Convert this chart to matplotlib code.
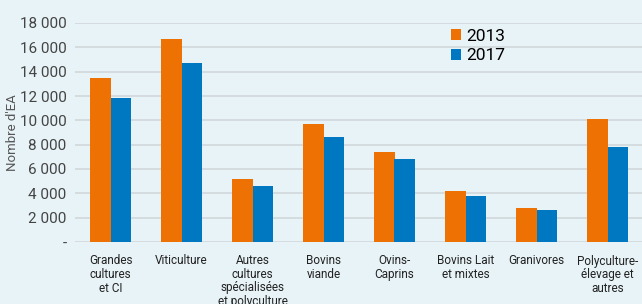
import numpy as np
import matplotlib
matplotlib.use("Agg")
from matplotlib import pyplot as plt

categories = ["Grandes\ncultures\net CI", "Viticulture",
              "Autres\ncultures\nspécialisées\net polyculture",
              "Bovins\nviande", "Ovins-\nCaprins", "Bovins Lait\net mixtes",
              "Granivores", "Polyculture-\nélevage et\nautres"]
v2013 = [13450, 16650, 5150, 9700, 7380, 4170, 2800, 10120]
v2017 = [11800, 14730, 4600, 8620, 6800, 3760, 2660, 7800]
yticks = [0, 2000, 4000, 6000, 8000, 10000, 12000, 14000, 16000, 18000]
ylabels = ["-", "2 000", "4 000", "6 000", "8 000", "10 000",
           "12 000", "14 000", "16 000", "18 000"]

bg = "#e8f3f8"
orange = "#ee7203"
blue = "#0078c1"

plt.rcParams['font.family'] = ['Roboto', 'DejaVu Sans']

fig = plt.figure(figsize=(6.42, 3.04), dpi=100, facecolor=bg)
ax = fig.add_axes([75/642, 62/304, 568/642, 219/304])
ax.set_facecolor(bg)

x = np.arange(len(categories))
w = 0.29
ax.bar(x - w/2, v2013, w, color=orange, label="2013", zorder=3)
ax.bar(x + w/2, v2017, w, color=blue, label="2017", zorder=3)

ax.set_xlim(-0.5, 7.5)
ax.set_ylim(0, 18000)
ax.set_yticks(yticks)
ax.set_yticklabels(ylabels, fontsize=11, color="#444444")
ax.set_xticks(x)
ax.set_xticklabels(categories, fontsize=8.5, color="#222222", linespacing=1.05)
ax.tick_params(length=0)
ax.tick_params(axis='y', pad=6)
ax.tick_params(axis='x', pad=9)
ax.grid(axis='y', color="#d3dadd", linewidth=1.3, zorder=0)
for s in ax.spines.values():
    s.set_visible(False)

ax.set_ylabel("Nombre d'EA", fontsize=9.5, color="#555555")
ax.yaxis.set_label_coords(-0.098, 0.5)

ax.legend(loc="upper left", bbox_to_anchor=(0.643, 1.02), frameon=False,
          fontsize=12.5, handlelength=0.6, handleheight=0.6, handletextpad=0.3,
          labelspacing=0.25, borderaxespad=0.2)

fig.savefig("out.png", dpi=100, facecolor=bg)
